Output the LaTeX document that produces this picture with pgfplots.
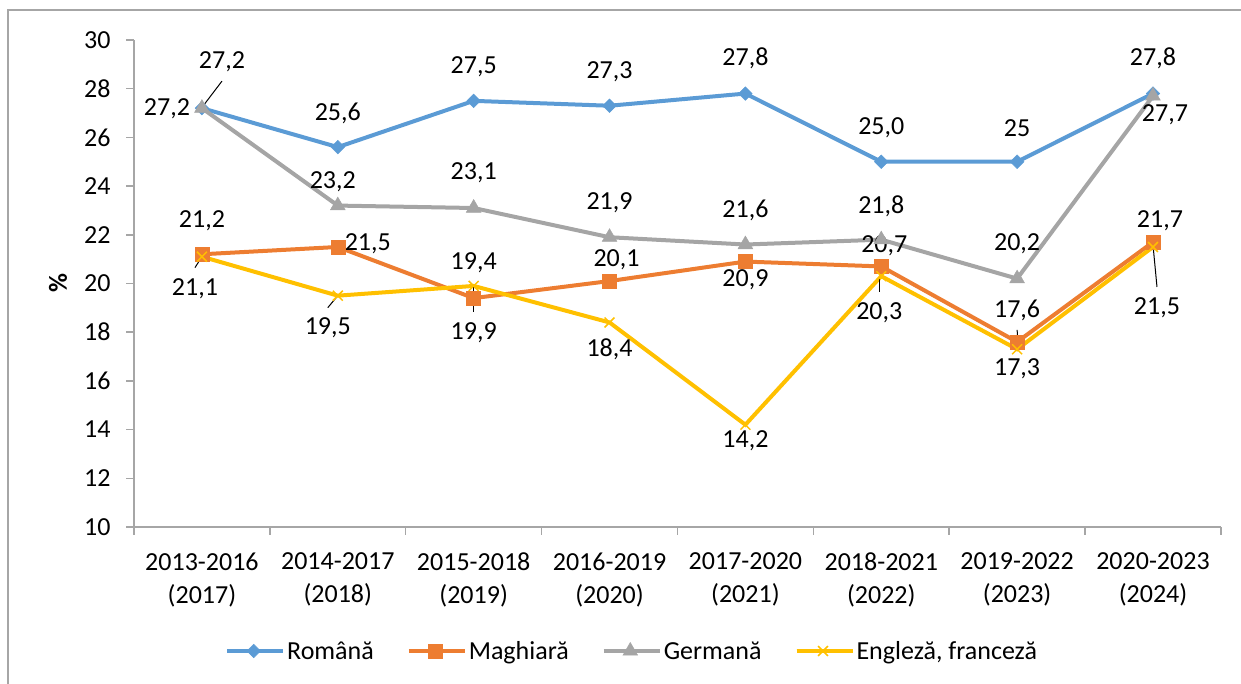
\documentclass[border=0pt]{standalone}
\usepackage{fontspec}
\setmainfont{Carlito}
\usepackage{pgfplots}
\pgfplotsset{compat=1.18}
\definecolor{cRo}{HTML}{5B9BD5}
\definecolor{cMa}{HTML}{ED7D31}
\definecolor{cGe}{HTML}{A5A5A5}
\definecolor{cEn}{HTML}{FFC000}
\definecolor{axgray}{HTML}{A6A6A6}
\newcommand{\lab}[5]{\node[inner sep=0pt, anchor=center] at ([shift={(#3pt,#4pt)}]axis cs:#1,#2) {#5};}
\newcommand{\lead}[6]{\draw[black, line width=1pt] ([shift={(#3pt,#4pt)}]axis cs:#1,#2) -- ([shift={(#5pt,#6pt)}]axis cs:#1,#2);}
\begin{document}
\begin{tikzpicture}[font=\fontsize{26}{33}\selectfont]
\useasboundingbox (0,0) rectangle (1241pt,684pt);
\draw[axgray, line width=1.2pt] (8pt,0pt) -- (8pt,674pt) -- (1241pt,674pt);
\begin{axis}[
  at={(134pt,157pt)}, anchor=south west,
  scale only axis, width=1087pt, height=487pt,
  xmin=-0.5, xmax=7.5, ymin=10, ymax=30,
  ytick={10,12,...,30},
  xtick={-0.5,0.5,...,7.5},
  x tick label as interval,
  xticklabels={{2013-2016\\(2017)},{2014-2017\\(2018)},{2015-2018\\(2019)},{2016-2019\\(2020)},{2017-2020\\(2021)},{2018-2021\\(2022)},{2019-2022\\(2023)},{2020-2023\\(2024)}},
  xticklabel style={align=center, font=\fontsize{26}{33}\selectfont, yshift=-14pt},
  yticklabel style={font=\fontsize{26}{33}\selectfont, xshift=-12pt},
  /pgf/number format/assume math mode=true,
  axis x line*=bottom, axis y line*=left,
  tick align=outside, major tick length=8pt,
  axis line style={draw=axgray, line width=1.5pt},
  tick style={draw=axgray, line width=1.5pt},
  ylabel={\bfseries\%},
  ylabel style={at={(axis description cs:-0.0699,0.5)}, anchor=center},
  clip=false,
  legend columns=4,
  legend style={at={(0.0837,-0.2546)}, anchor=west, draw=none, fill=none, inner sep=0pt,
    font=\fontsize{26}{33}\selectfont,
    /tikz/every even column/.append style={column sep=31pt}},
  legend image code/.code={\draw[mark repeat=2,mark phase=2,#1,line width=3pt] plot coordinates {(0pt,0pt) (26.5pt,0pt) (53pt,0pt)}; \path (0pt,0pt) -- (56pt,0pt);},
]
\addplot[cRo, line width=4pt, mark=square*, mark size=4.8pt, mark options={rotate=45, fill=cRo, draw=cRo, line width=0.5pt}]
  coordinates {(0,27.2) (1,25.6) (2,27.5) (3,27.3) (4,27.8) (5,25.0) (6,25) (7,27.8)};
\addlegendentry{Română}
\addplot[cMa, line width=4pt, mark=square*, mark size=7pt, mark options={fill=cMa, draw=cMa, line width=0.5pt}]
  coordinates {(0,21.2) (1,21.5) (2,19.4) (3,20.1) (4,20.9) (5,20.7) (6,17.6) (7,21.7)};
\addlegendentry{Maghiară}
\addplot[cGe, line width=4pt, mark=triangle*, mark size=8.5pt, mark options={fill=cGe, draw=cGe, line width=0.5pt}]
  coordinates {(0,27.2) (1,23.2) (2,23.1) (3,21.9) (4,21.6) (5,21.8) (6,20.2) (7,27.7)};
\addlegendentry{Germană}
\addplot[cEn, line width=4pt, mark=x, mark size=7pt, mark options={draw=cEn, line width=1.5pt}]
  coordinates {(0,21.1) (1,19.5) (2,19.9) (3,18.4) (4,14.2) (5,20.3) (6,17.3) (7,21.5)};
\addlegendentry{Engleză, franceză}
% Romana labels
\lab{0}{27.2}{20}{46}{27,2}
\lab{1}{25.6}{0}{34}{25,6}
\lab{2}{27.5}{0}{34}{27,5}
\lab{3}{27.3}{0}{34}{27,3}
\lab{4}{27.8}{0}{35}{27,8}
\lab{5}{25.0}{0}{34}{25,0}
\lab{6}{25}{0}{34}{25}
\lab{7}{27.8}{0}{35}{27,8}
\lead{0}{27.2}{1}{2}{20}{27}
% Maghiara labels
\lab{0}{21.2}{0}{34}{21,2}
\lab{1}{21.5}{30}{3}{21,5}
\lab{2}{19.4}{0}{35}{19,4}
\lab{3}{20.1}{7}{21}{20,1}
\lab{4}{20.9}{0}{-18}{20,9}
\lab{5}{20.7}{3}{21}{20,7}
\lab{6}{17.6}{0}{32}{17,6}
\lab{7}{21.7}{7}{21}{21,7}
\lead{6}{17.6}{0}{12}{1}{-3}
% Germana labels
\lab{0}{27.2}{-35}{-1}{27,2}
\lab{1}{23.2}{-5}{24}{23,2}
\lab{2}{23.1}{0}{35}{23,1}
\lab{3}{21.9}{0}{34}{21,9}
\lab{4}{21.6}{0}{34}{21,6}
\lab{5}{21.8}{0}{33}{21,8}
\lab{6}{20.2}{0}{35}{20,2}
\lab{7}{27.7}{12}{-19}{27,7}
% Engleza labels
\lab{0}{21.1}{-7}{-32}{21,1}
\lab{1}{19.5}{-10}{-32}{19,5}
\lab{2}{19.9}{0}{-47}{19,9}
\lab{3}{18.4}{0}{-27}{18,4}
\lab{4}{14.2}{0}{-16}{14,2}
\lab{5}{20.3}{-2}{-37}{20,3}
\lab{6}{17.3}{0}{-19}{17,3}
\lab{7}{21.5}{4}{-61}{21,5}
\lead{0}{21.1}{0}{0}{-7}{-11}
\lead{1}{19.5}{0}{0}{-10}{-12}
\lead{2}{19.9}{0}{-1}{0}{-26}
\lead{5}{20.3}{-2}{-1}{-2}{-16}
\lead{7}{21.5}{0}{2}{4}{-40}
\end{axis}
\end{tikzpicture}
\end{document}
